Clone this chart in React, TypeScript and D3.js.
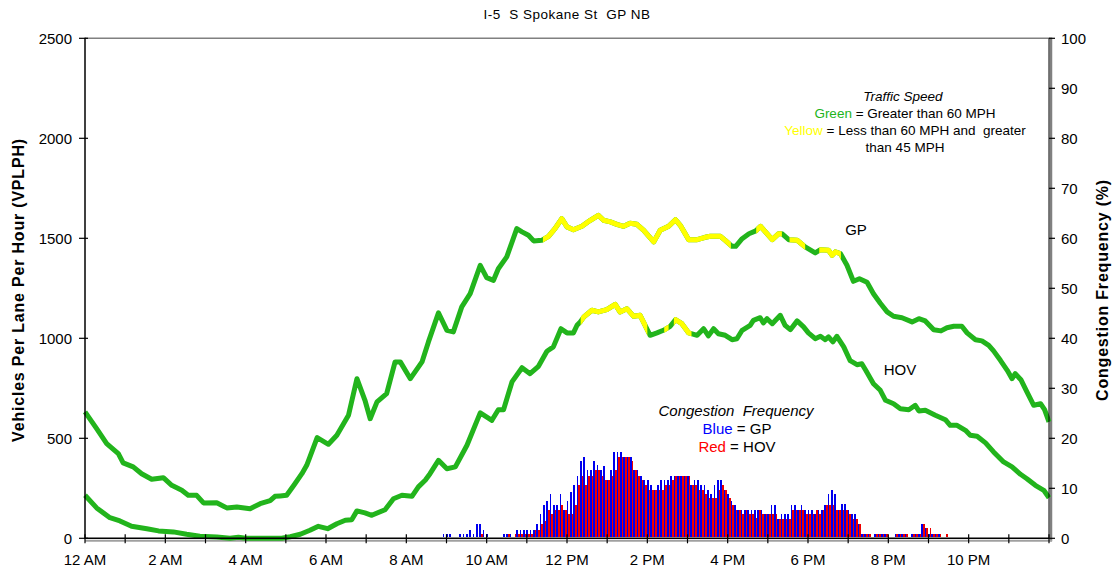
import React from 'react';
import * as d3 from 'd3';

const W = 1115;
const H = 573;
const PLOT = { left: 85, right: 1049, top: 38.3, bottom: 538.3 };
const FONT = "Arial, 'Liberation Sans', Helvetica, sans-serif";
const GREEN = '#22b41c';
const YELLOW = '#ffff00';
const BLUE = '#0000ee';
const RED = '#ee0000';

const title = 'I-5  S Spokane St  GP NB';
const xTickLabels = ['12 AM', '2 AM', '4 AM', '6 AM', '8 AM', '10 AM', '12 PM', '2 PM', '4 PM', '6 PM', '8 PM', '10 PM'];
const leftTicks = [0, 500, 1000, 1500, 2000, 2500];
const rightTicks = [0, 10, 20, 30, 40, 50, 60, 70, 80, 90, 100];

// [hour of day, vehicles per lane per hour]
const gpVolume: [number, number][] = [
  [0, 632], [0.29, 548], [0.54, 473], [0.83, 423], [0.95, 377], [1.2, 357], [1.41, 323], [1.66, 295],
  [1.95, 303], [2.16, 265], [2.41, 240], [2.57, 215], [2.78, 215], [2.95, 177], [3.28, 178], [3.53, 152],
  [3.78, 157], [4.11, 148], [4.36, 173], [4.61, 188], [4.73, 210], [4.86, 212], [5.02, 215], [5.2, 265],
  [5.4, 323], [5.52, 365], [5.6, 407], [5.78, 503], [6.06, 470], [6.27, 515], [6.56, 615], [6.77, 798],
  [6.97, 690], [7.1, 598], [7.27, 682], [7.51, 723], [7.72, 882], [7.85, 882], [8.1, 798], [8.39, 882],
  [8.55, 982], [8.8, 1127], [9.01, 1040], [9.17, 1032], [9.38, 1157], [9.59, 1223], [9.84, 1365], [10.0, 1303],
  [10.17, 1290], [10.29, 1348], [10.5, 1407], [10.75, 1548], [10.88, 1532], [11.04, 1515], [11.17, 1487], [11.37, 1490],
  [11.54, 1510], [11.7, 1548], [11.87, 1598], [12.0, 1557], [12.16, 1543], [12.37, 1560], [12.58, 1590], [12.78, 1615],
  [12.91, 1590], [13.08, 1582], [13.24, 1570], [13.41, 1560], [13.57, 1575], [13.74, 1570], [13.91, 1540], [14.16, 1482],
  [14.32, 1540], [14.53, 1560], [14.7, 1593], [14.82, 1565], [15.03, 1493], [15.24, 1493], [15.44, 1505], [15.57, 1510],
  [15.82, 1510], [15.94, 1490], [16.11, 1460], [16.2, 1460], [16.36, 1498], [16.53, 1523], [16.7, 1537], [16.82, 1560],
  [16.94, 1532], [17.11, 1493], [17.27, 1523], [17.35, 1523], [17.52, 1493], [17.73, 1490], [17.93, 1457], [18.18, 1427],
  [18.31, 1443], [18.51, 1440], [18.6, 1415], [18.68, 1432], [18.81, 1423], [18.97, 1365], [19.13, 1285], [19.28, 1298],
  [19.47, 1280], [19.63, 1223], [19.8, 1175], [19.97, 1132], [20.13, 1110], [20.34, 1103], [20.59, 1082], [20.76, 1098],
  [20.92, 1087], [21.13, 1043], [21.31, 1037], [21.46, 1053], [21.63, 1060], [21.83, 1060], [21.96, 1027], [22.17, 993],
  [22.33, 987], [22.5, 965], [22.62, 937], [22.79, 890], [22.96, 840], [23.08, 798], [23.16, 823], [23.3, 793],
  [23.45, 732], [23.62, 665], [23.79, 673], [23.89, 643], [24.0, 582],
];

const hovVolume: [number, number][] = [
  [0, 215], [0.29, 152], [0.62, 103], [0.87, 87], [1.16, 60], [1.54, 48], [1.83, 37], [2.2, 32],
  [2.53, 20], [2.86, 10], [3.28, 7], [3.61, 0], [3.82, 5], [4.0, 0], [4.9, 0], [5.11, 8],
  [5.36, 20], [5.6, 40], [5.81, 60], [6.04, 48], [6.27, 73], [6.48, 90], [6.64, 93], [6.77, 137],
  [6.97, 127], [7.14, 115], [7.47, 143], [7.68, 198], [7.89, 215], [8.14, 210], [8.3, 257], [8.47, 290],
  [8.59, 323], [8.8, 390], [9.01, 348], [9.22, 357], [9.51, 465], [9.84, 627], [10.13, 590], [10.29, 643],
  [10.42, 643], [10.63, 782], [10.88, 853], [11.08, 823], [11.29, 860], [11.5, 935], [11.66, 957], [11.85, 1048],
  [12.0, 1027], [12.16, 1027], [12.25, 1065], [12.33, 1082], [12.42, 1107], [12.62, 1140], [12.78, 1132], [12.99, 1143],
  [13.2, 1170], [13.32, 1132], [13.49, 1148], [13.66, 1110], [13.82, 1115], [14.07, 1015], [14.24, 1027], [14.4, 1040],
  [14.57, 1060], [14.7, 1093], [14.86, 1073], [15.03, 1027], [15.24, 1015], [15.4, 1048], [15.52, 1012], [15.65, 1048],
  [15.77, 1023], [15.94, 1015], [16.11, 993], [16.23, 998], [16.36, 1040], [16.56, 1065], [16.64, 1090], [16.81, 1103],
  [16.89, 1077], [16.98, 1098], [17.11, 1073], [17.31, 1115], [17.43, 1065], [17.56, 1043], [17.73, 1087], [17.89, 1057],
  [18.01, 1027], [18.18, 998], [18.31, 1010], [18.43, 993], [18.51, 1007], [18.62, 982], [18.72, 1010], [18.89, 957],
  [19.05, 888], [19.22, 868], [19.34, 873], [19.43, 843], [19.63, 773], [19.8, 740], [19.93, 690], [20.13, 673],
  [20.3, 648], [20.51, 643], [20.67, 665], [20.76, 637], [20.92, 640], [21.17, 615], [21.42, 593], [21.54, 565],
  [21.71, 565], [21.92, 540], [22.04, 515], [22.21, 510], [22.42, 477], [22.62, 432], [22.87, 382], [23.08, 357],
  [23.29, 320], [23.45, 298], [23.66, 265], [23.87, 240], [24.0, 203],
];

// hours where speed was between 45 and 60 MPH (drawn yellow)
const gpYellowRanges: [number, number][] = [[11.4, 16.08], [16.71, 17.35], [17.54, 17.93], [18.28, 18.82]];
const hovYellowRanges: [number, number][] = [[12.34, 14.0], [14.42, 14.53], [14.66, 15.1]];

// congestion frequency (%) per 5-minute slot, starting at slot 105 (8:45 AM)
const congestionFirstSlot = 105;
const gpCongestion = [
  0, 0, 0.8, 0.8, 0.8, 0, 0, 0.8, 0.8, 0.8, 1.7, 0.8, 2.9, 2.9, 1.7, 0.8,
  0, 0, 0, 0, 0.8, 0.8, 0.8, 0, 1.7, 1.7, 1.7, 1.7, 1.7, 1.7, 2.9, 4.9,
  6.7, 7.5, 8.9, 6.7, 6.7, 8.9, 5.7, 7.5, 9.3, 10.7, 12.5, 15.5, 16.3, 13.7,
  13.7, 15.5, 14.7, 13.7, 14.5, 11.7, 13.7, 17.3, 17.3, 17.3, 16.3, 16.3, 16.3, 13.7,
  13.7, 12.5, 11.7, 11.7, 10.7, 9.7, 10.7, 11.7, 11.7, 11.7, 12.5, 12.5, 12.5, 12.5,
  12.5, 12.5, 10.7, 11.7, 11.7, 10.7, 10.7, 9.7, 8.8, 10.7, 11.7, 11.7, 9.7, 8.8,
  7.5, 6.7, 5.7, 5.7, 5.7, 5.7, 5.7, 5.7, 5.7, 5.7, 4.8, 4.8, 6.7, 6.7,
  3.9, 4.8, 4.8, 4.8, 6.7, 6.7, 5.7, 6.7, 5.7, 5.7, 5.7, 4.8, 5.7, 5.7,
  6.7, 8.8, 9.7, 8.8, 5.7, 6.8, 6.8, 5.7, 4.8, 4.8, 2.8, 0.8, 0.8, 0.8,
  0, 0.8, 0.8, 0.8, 0.8, 0, 0, 0.8, 0.8, 0.8, 0.8, 0, 0.8, 0.8, 0.8, 2.8,
  2.0, 0.8, 0.8, 0.8, 0.8, 0, 0,
];
const hovCongestion = [
  0, 0, 0, 0, 0, 0, 0, 0, 0, 0, 0, 0, 0, 0.8, 0, 0,
  0, 0, 0, 0, 0, 0.8, 0, 0.8, 0.8, 0.8, 0.8, 0.8, 0.8, 1.7, 1.7, 2.9,
  3.5, 5.7, 4.9, 5.7, 5.7, 6.7, 5.7, 4.9, 4.9, 6.7, 10.7, 12.5, 10.7, 12.5,
  12.5, 13.7, 13.7, 12.5, 11.7, 11.7, 12.5, 13.7, 16.3, 16.3, 16.3, 16.3, 15.5, 13.7,
  12.5, 11.7, 10.7, 9.7, 9.7, 9.7, 9.7, 9.7, 10.7, 10.7, 11.7, 12.5, 12.5, 12.5,
  12.5, 12.5, 10.7, 10.7, 9.7, 9.7, 8.8, 8.0, 8.0, 8.0, 9.7, 10.7, 9.7, 8.0,
  6.7, 5.7, 5.7, 4.8, 5.7, 4.8, 4.8, 4.0, 5.7, 4.8, 4.8, 4.8, 4.8, 4.8,
  3.9, 3.9, 3.9, 3.9, 5.7, 5.7, 5.7, 5.7, 4.8, 4.8, 4.8, 5.7, 4.8, 5.7,
  6.7, 6.7, 6.7, 5.7, 5.7, 5.7, 5.7, 4.8, 3.9, 3.9, 2.8, 0.8, 0.8, 0.8,
  0, 0.8, 0.8, 0.8, 0.8, 0, 0, 0.8, 0.8, 0.8, 0.8, 0, 0.8, 0.8, 0.8, 2.8,
  2.0, 2.0, 0.8, 0.8, 0.8, 0, 0.8,
];

export default function App() {
  const x = d3.scaleLinear().domain([0, 24]).range([PLOT.left, PLOT.right]);
  const slot = d3.scaleBand<number>().domain(d3.range(288)).range([PLOT.left, PLOT.right]).paddingInner(0).paddingOuter(0);
  const yL = d3.scaleLinear().domain([0, 2500]).range([PLOT.bottom, PLOT.top]);
  const yR = d3.scaleLinear().domain([0, 100]).range([PLOT.bottom, PLOT.top]);
  const line = d3.line<[number, number]>().x(d => x(d[0])).y(d => yL(d[1]));
  const bw = slot.bandwidth();
  const hourTicks = d3.range(0, 25);
  const base = Math.round(yR(0)) - 1;

  const clipRects = (ranges: [number, number][]) =>
    ranges.map(([a, b], i) => (
      <rect key={i} x={x(a)} y={0} width={x(b) - x(a)} height={H} />
    ));

  const barRect = (k: number, v: number, half: number, fill: string, key: string) => {
    const s = slot(k)! - 0.5;
    const x0 = Math.round(s + half * bw / 2);
    const x1 = Math.round(s + (half + 1) * bw / 2);
    const top = Math.round(yR(v));
    return <rect key={key} x={x0} width={Math.max(1, x1 - x0)} y={top} height={base - top} fill={fill} shapeRendering="crispEdges" />;
  };

  return (
    <svg width={W} height={H} style={{ position: 'absolute', left: 0, top: 0, display: 'block', background: '#fff' }} fontFamily={FONT}>
      <defs>
        <clipPath id="gpY">{clipRects(gpYellowRanges)}</clipPath>
        <clipPath id="hovY">{clipRects(hovYellowRanges)}</clipPath>
      </defs>
      <rect x={0} y={0} width={W} height={H} fill="#fff" />
      <text x={567} y={19} textAnchor="middle" fontSize={13.5} letterSpacing={0.5} fill="#000" style={{ whiteSpace: 'pre' }}>{title}</text>

      {/* plot border */}
      <line x1={PLOT.left} x2={PLOT.right + 1} y1={PLOT.top} y2={PLOT.top} stroke="#808080" strokeWidth={1.5} />
      <line x1={PLOT.right + 2} x2={PLOT.right + 2} y1={PLOT.top - 0.7} y2={PLOT.bottom + 3} stroke="#808080" strokeWidth={2.5} />
      <line x1={PLOT.left} x2={PLOT.right + 3} y1={PLOT.bottom + 2.5} y2={PLOT.bottom + 2.5} stroke="#a0a0a0" strokeWidth={2} />

      {/* congestion bars */}
      {gpCongestion.map((v, i) => v > 0 ? barRect(congestionFirstSlot + i, v, 0, BLUE, 'g' + i) : null)}
      {hovCongestion.map((v, i) => v > 0 ? barRect(congestionFirstSlot + i, v, 1, RED, 'h' + i) : null)}

      {/* volume lines */}
      <path d={line(gpVolume)!} fill="none" stroke={GREEN} strokeWidth={5} strokeLinejoin="round" />
      <path d={line(gpVolume)!} fill="none" stroke={YELLOW} strokeWidth={5} strokeLinejoin="round" clipPath="url(#gpY)" />
      <path d={line(hovVolume)!} fill="none" stroke={GREEN} strokeWidth={5} strokeLinejoin="round" />
      <path d={line(hovVolume)!} fill="none" stroke={YELLOW} strokeWidth={5} strokeLinejoin="round" clipPath="url(#hovY)" />

      {/* axes */}
      <line x1={PLOT.left} x2={PLOT.left} y1={PLOT.top - 0.5} y2={PLOT.bottom + 0.5} stroke="#000" strokeWidth={1.5} />
      <line x1={PLOT.left} x2={PLOT.right} y1={PLOT.bottom} y2={PLOT.bottom} stroke="#000" strokeWidth={1.5} />
      <line x1={PLOT.right} x2={PLOT.right} y1={PLOT.top} y2={PLOT.bottom} stroke="#000" strokeWidth={1} />

      {leftTicks.map(t => (
        <g key={'l' + t}>
          <line x1={PLOT.left - 6} x2={PLOT.left + 3} y1={yL(t)} y2={yL(t)} stroke="#000" strokeWidth={1.2} />
          <text x={PLOT.left - 13} y={yL(t)} dy="0.36em" textAnchor="end" fontSize={15} fill="#000">{t}</text>
        </g>
      ))}
      {rightTicks.map(t => (
        <g key={'r' + t}>
          <line x1={PLOT.right} x2={PLOT.right + 6} y1={yR(t)} y2={yR(t)} stroke="#000" strokeWidth={1.2} />
          <text x={PLOT.right + 12} y={yR(t)} dy="0.36em" textAnchor="start" fontSize={15} fill="#000">{t}</text>
        </g>
      ))}
      {hourTicks.map(h => (
        <line key={'h' + h} x1={x(h)} x2={x(h)} y1={PLOT.bottom - 4} y2={PLOT.bottom + 5} stroke="#000" strokeWidth={1.2} />
      ))}
      {xTickLabels.map((lab, i) => (
        <text key={lab} x={x(i * 2)} y={565} textAnchor="middle" fontSize={15} fill="#000">{lab}</text>
      ))}

      {/* axis titles */}
      <text transform="translate(24,290) rotate(-90)" textAnchor="middle" fontSize={16} fontWeight="bold" letterSpacing={0.8} fill="#000">
        Vehicles Per Lane Per Hour (VPLPH)
      </text>
      <text transform="translate(1108,290) rotate(-90)" textAnchor="middle" fontSize={16} fontWeight="bold" letterSpacing={0.8} fill="#000">
        Congestion Frequency (%)
      </text>

      {/* annotations */}
      <text x={903} y={101} textAnchor="middle" fontSize={13.5} fontStyle="italic" fill="#000">Traffic Speed</text>
      <text x={905} y={118} textAnchor="middle" fontSize={13.5} fill="#000">
        <tspan fill={GREEN}>Green</tspan> = Greater than 60 MPH
      </text>
      <text x={905} y={135} textAnchor="middle" fontSize={13.5} fill="#000" style={{ whiteSpace: 'pre' }}>
        <tspan fill={YELLOW}>Yellow</tspan>{' = Less than 60 MPH and  greater'}
      </text>
      <text x={905} y={152} textAnchor="middle" fontSize={13.5} fill="#000">than 45 MPH</text>

      <text x={856} y={235} textAnchor="middle" fontSize={15} fill="#000">GP</text>
      <text x={900} y={375} textAnchor="middle" fontSize={15} fill="#000">HOV</text>

      <text x={736} y={416} textAnchor="middle" fontSize={15} fontStyle="italic" fill="#000" style={{ whiteSpace: 'pre' }}>{'Congestion  Frequency'}</text>
      <text x={737} y={434} textAnchor="middle" fontSize={15} fill="#000">
        <tspan fill="#0000ff">Blue</tspan> = GP
      </text>
      <text x={737} y={452} textAnchor="middle" fontSize={15} fill="#000">
        <tspan fill="#ff0000">Red</tspan> = HOV
      </text>
    </svg>
  );
}
